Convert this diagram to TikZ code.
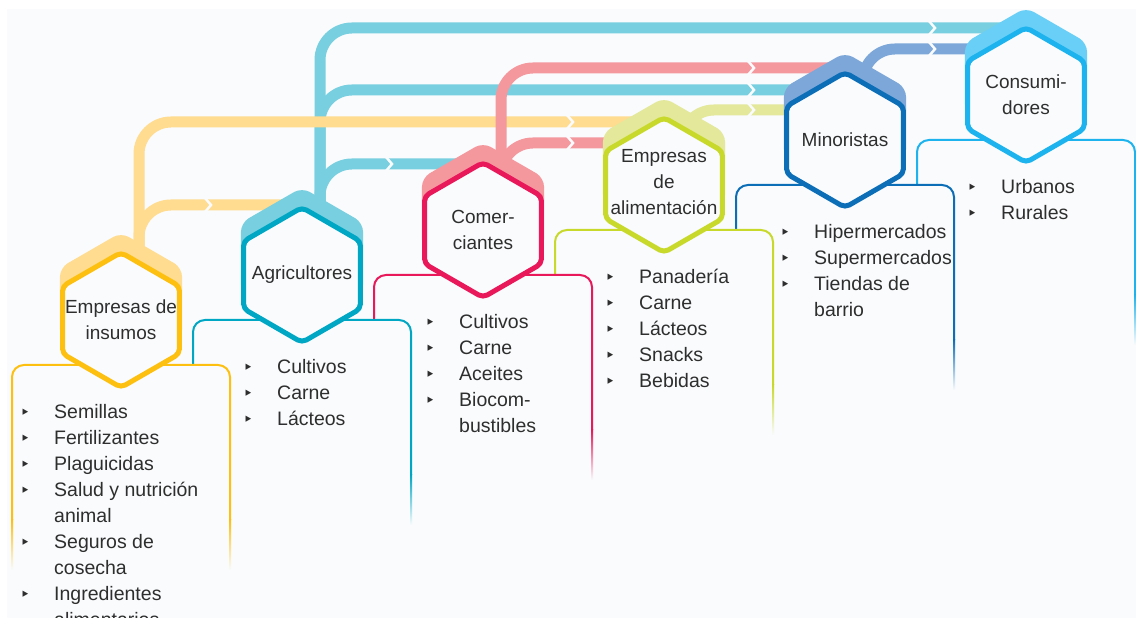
\documentclass[tikz,border=0pt]{standalone}
\usepackage{fontspec}
\setmainfont{Liberation Sans}
\newfontfamily\symf{DejaVu Sans}
\usetikzlibrary{shapes.geometric,calc}

\definecolor{bgc}{HTML}{F9FBFD}
\definecolor{txt}{HTML}{2E2E2E}
\definecolor{yelD}{HTML}{FDC010}
\definecolor{yelL}{HTML}{FFDC8F}
\definecolor{cyaD}{HTML}{00A7C4}
\definecolor{cyaL}{HTML}{78CFDF}
\definecolor{redD}{HTML}{E8185A}
\definecolor{redL}{HTML}{F4989E}
\definecolor{greD}{HTML}{C8D92B}
\definecolor{greL}{HTML}{E3E89B}
\definecolor{bluD}{HTML}{0D6EB8}
\definecolor{bluL}{HTML}{7DA7D9}
\definecolor{skyD}{HTML}{1CB3EE}
\definecolor{skyL}{HTML}{6ACFF6}

\pgfdeclarelayer{back}
\pgfdeclarelayer{conn}
\pgfdeclarelayer{shad}
\pgfsetlayers{back,conn,shad,main}

\tikzset{
  hexa/.style={regular polygon, regular polygon sides=6, shape border rotate=30,
    minimum size=135pt, inner sep=0pt, draw=#1, line width=5pt, fill=bgc, rounded corners=5pt},
  hexshadow/.style={regular polygon, regular polygon sides=6, shape border rotate=30,
    minimum size=141pt, inner sep=0pt, fill=#1, rounded corners=9pt, yshift=17pt},
  hexlabel/.style={align=center, text=txt, inner sep=0pt, font=\fontsize{19}{26}\selectfont},
  conn/.style={draw=#1, line width=11pt, rounded corners=32pt},
  chevron/.style={draw=bgc, line width=2.5pt},
  boxline/.style={draw=#1, line width=2pt, rounded corners=12pt},
  itemlist/.style={anchor=base west, inner sep=0pt, text=txt, font=\fontsize{19.5}{26}\selectfont}
}
\newcommand{\bul}{{\symf\fontsize{17}{17}\selectfont ‣}}

\begin{document}
\begin{tikzpicture}[x=1pt,y=1pt]
  \useasboundingbox (0,0) rectangle (1136,618);

  % hexagons
  \foreach \n/\x/\y/\c in {insu/121/298/yelD, agri/302/343/cyaD, comer/483/388/redD,
      alim/664/433/greD, mino/845/478/bluD, cons/1026/523/skyD}
    \node[hexa=\c] (\n) at (\x,\y) {};
  \node[hexlabel] (insu-l) at (insu) {Empresas de\\insumos};
  \node[hexlabel] (agri-l) at (agri) {Agricultores};
  \node[hexlabel] (comer-l) at (comer) {Comer-\\ciantes};
  \node[hexlabel] (alim-l) at ($(alim)+(0,3)$) {Empresas\\de\\alimentación};
  \node[hexlabel] (mino-l) at (mino) {Minoristas};
  \node[hexlabel] (cons-l) at (cons) {Consumi-\\dores};

  \begin{pgfonlayer}{shad}
    \foreach \n/\c in {insu/yelL, agri/cyaL, comer/redL, alim/greL, mino/bluL, cons/skyL}
      \node[hexshadow=\c] (\n-s) at (\n) {};
  \end{pgfonlayer}

  % flows
  \begin{pgfonlayer}{conn}
    \draw[conn=cyaL] ($(agri)+(18,40)$) |- ($(cons)+(0,67)$);
    \draw[conn=cyaL] ($(agri)+(18,40)$) |- ($(mino)+(0,50)$);
    \draw[conn=cyaL] ($(agri)+(18,40)$) |- ($(comer)+(0,66)$);
    \draw[conn=yelL] ($(insu)+(18,40)$) |- ($(alim)+(0,63)$);
    \draw[conn=yelL] ($(insu)+(18,40)$) |- ($(agri)+(0,70)$);
    \draw[conn=redL] ($(comer)+(18,40)$) |- ($(mino)+(0,72)$);
    \draw[conn=redL] ($(comer)+(18,40)$) |- ($(alim)+(0,42)$);
    \draw[conn=greL] ($(alim)+(18,40)$) |- ($(mino)+(0,30)$);
    \draw[conn=bluL] ($(mino)+(18,40)$) |- ($(cons)+(0,46)$);
    \foreach \t/\d in {cons/67, mino/50, comer/66, alim/63, agri/70, mino/72, alim/42, mino/30, cons/46}
      \draw[chevron] ($(\t)+(-97,\d+7)$) -- ++(6,-7) -- ++(-6,-7);
  \end{pgfonlayer}

  % boxes
  \begin{pgfonlayer}{back}
    \fill[white] (0,0) rectangle (1136,618);
    \fill[bgc] (7,0) rectangle (1136,609);
    \foreach \n/\c in {cons/skyD, mino/bluD, alim/greD, comer/redD, agri/cyaD, insu/yelD} {
      \fill[bgc, rounded corners=12pt] ($(\n)+(-109,-45)$) rectangle ($(\n)+(109,-400)$);
      \draw[boxline=\c] ($(\n)+(-109,-200)$) |- ($(\n)+(0,-45)$) -| ($(\n)+(109,-200)$);
      \shade[top color=\c, bottom color=bgc] ($(\n)+(-110,-200)$) rectangle ($(\n)+(-108,-250)$);
      \shade[top color=\c, bottom color=bgc] ($(\n)+(108,-200)$) rectangle ($(\n)+(110,-250)$);
    }
  \end{pgfonlayer}

  \node[itemlist] (insu-list) at ($(insu)+(-101,-99)$) {\begin{tabular}[t]{@{}p{34pt}@{}l@{}}
    \bul & Semillas\\ \bul & Fertilizantes\\ \bul & Plaguicidas\\
    \bul & Salud y nutrición\\ & animal\\ \bul & Seguros de\\ & cosecha\\
    \bul & Ingredientes\\ & alimentarios\end{tabular}};
  \node[itemlist] (agri-list) at ($(agri)+(-59,-99)$) {\begin{tabular}[t]{@{}p{34pt}@{}l@{}}
    \bul & Cultivos\\ \bul & Carne\\ \bul & Lácteos\end{tabular}};
  \node[itemlist] (comer-list) at ($(comer)+(-58,-99)$) {\begin{tabular}[t]{@{}p{34pt}@{}l@{}}
    \bul & Cultivos\\ \bul & Carne\\ \bul & Aceites\\ \bul & Biocom-\\ & bustibles\end{tabular}};
  \node[itemlist] (alim-list) at ($(alim)+(-59,-99)$) {\begin{tabular}[t]{@{}p{34pt}@{}l@{}}
    \bul & Panadería\\ \bul & Carne\\ \bul & Lácteos\\ \bul & Snacks\\ \bul & Bebidas\end{tabular}};
  \node[itemlist] (mino-list) at ($(mino)+(-65,-99)$) {\begin{tabular}[t]{@{}p{34pt}@{}l@{}}
    \bul & Hipermercados\\ \bul & Supermercados\\ \bul & Tiendas de\\ & barrio\end{tabular}};
  \node[itemlist] (cons-list) at ($(cons)+(-59,-99)$) {\begin{tabular}[t]{@{}p{34pt}@{}l@{}}
    \bul & Urbanos\\ \bul & Rurales\end{tabular}};
\end{tikzpicture}
\end{document}
